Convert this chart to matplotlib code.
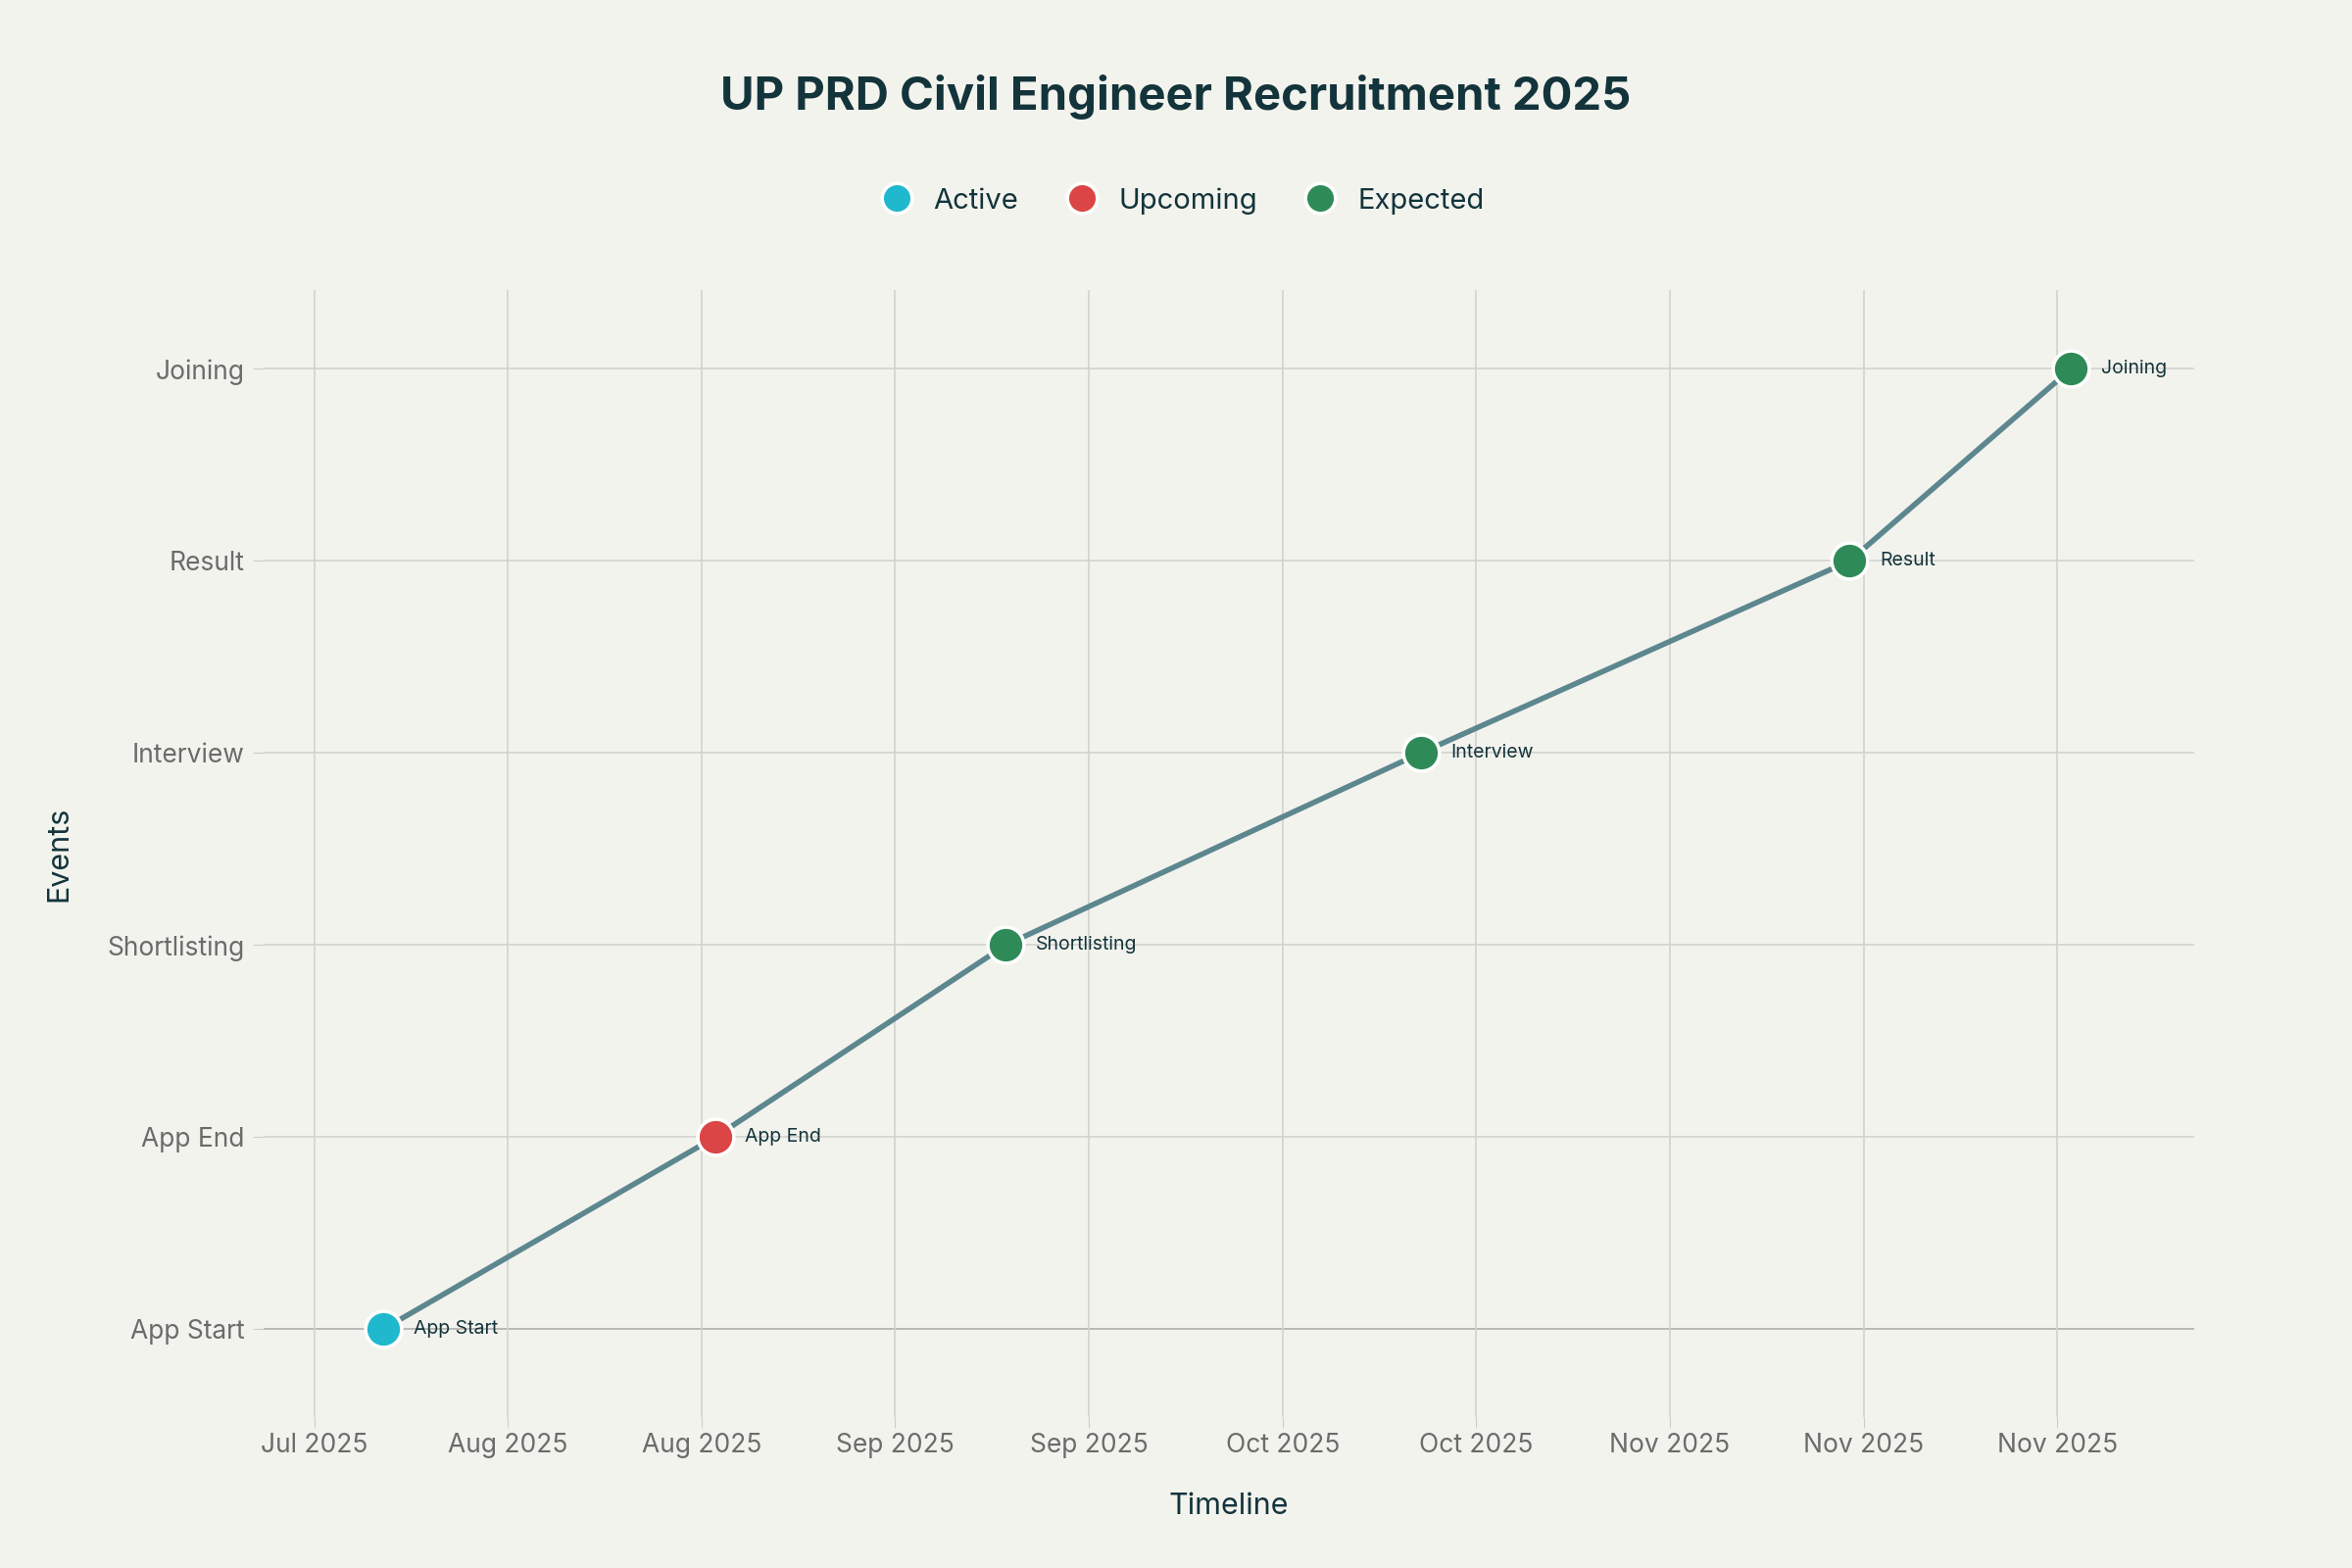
import matplotlib
matplotlib.use("Agg")
import matplotlib.pyplot as plt
import matplotlib.dates as mdates
import numpy as np
from datetime import datetime, timedelta
from matplotlib.lines import Line2D

events = ["App Start", "App End", "Shortlisting", "Interview", "Result", "Joining"]
dates = ["2025-08-01", "2025-08-25", "2025-09-15", "2025-10-15", "2025-11-15", "2025-12-01"]
statuses = ["Active", "Upcoming", "Expected", "Expected", "Expected", "Expected"]
status_colors = {"Active": "#1FB8CD", "Upcoming": "#DB4545", "Expected": "#2E8B57"}
tick_dates = ["2025-07-27", "2025-08-10", "2025-08-24", "2025-09-07", "2025-09-21",
              "2025-10-05", "2025-10-19", "2025-11-02", "2025-11-16", "2025-11-30"]

bg = "#F3F3EE"
plt.rcParams["font.family"] = "Inter"
fig = plt.figure(figsize=(24, 16), dpi=100, facecolor=bg)
ax = fig.add_axes([0.112, 0.096, 0.821, 0.719], facecolor=bg)

x = [datetime.strptime(d, "%Y-%m-%d") for d in dates]
y = np.arange(len(events))
ax.plot(x, y, color="#5D878F", lw=4, zorder=2)
for xi, yi, s, e in zip(x, y, statuses, events):
    ax.scatter(xi, yi, s=700, color=status_colors[s], edgecolor="white", linewidth=2.5, zorder=3)
    ax.annotate(e, (xi, yi), xytext=(22, 0), textcoords="offset points", va="center",
                fontsize=14, color="#13343B", zorder=4)

ax.set_ylim(-0.46, 5.41)
ax.set_xlim(datetime(2025, 7, 23, 8), datetime(2025, 12, 9, 22))
ax.set_yticks(y)
ax.set_yticklabels(events)
td = [datetime.strptime(d, "%Y-%m-%d") for d in tick_dates]
ax.set_xticks(td)
ax.set_xticklabels([d.strftime("%b %Y") for d in td])
ax.tick_params(axis="both", labelsize=19, colors="#6B6B6B", length=8, color="#CCCCCC")
ax.tick_params(axis="y", pad=6)
ax.grid(True, color="#D2D2CF", lw=1.2)
ax.axhline(0, color="#333333", lw=1.3, zorder=1)
for sp in ax.spines.values():
    sp.set_visible(False)
ax.set_xlabel("Timeline", fontsize=22, color="#13343B", labelpad=25)
ax.set_ylabel("Events", fontsize=22, color="#13343B", labelpad=25)

fig.text(0.5, 0.938, "UP PRD Civil Engineer Recruitment 2025", ha="center", va="center",
         fontsize=34, fontweight="bold", color="#13343B")
handles = [Line2D([], [], marker="o", ls="", markersize=22, markerfacecolor=c,
                  markeredgecolor="white", markeredgewidth=2.5, label=k)
           for k, c in status_colors.items()]
fig.legend(handles=handles, loc="center", bbox_to_anchor=(0.5, 0.872), ncol=3, frameon=False,
           fontsize=21, labelcolor="#13343B", handletextpad=0.3, columnspacing=1.2)
fig.savefig("out.png", facecolor=bg)
